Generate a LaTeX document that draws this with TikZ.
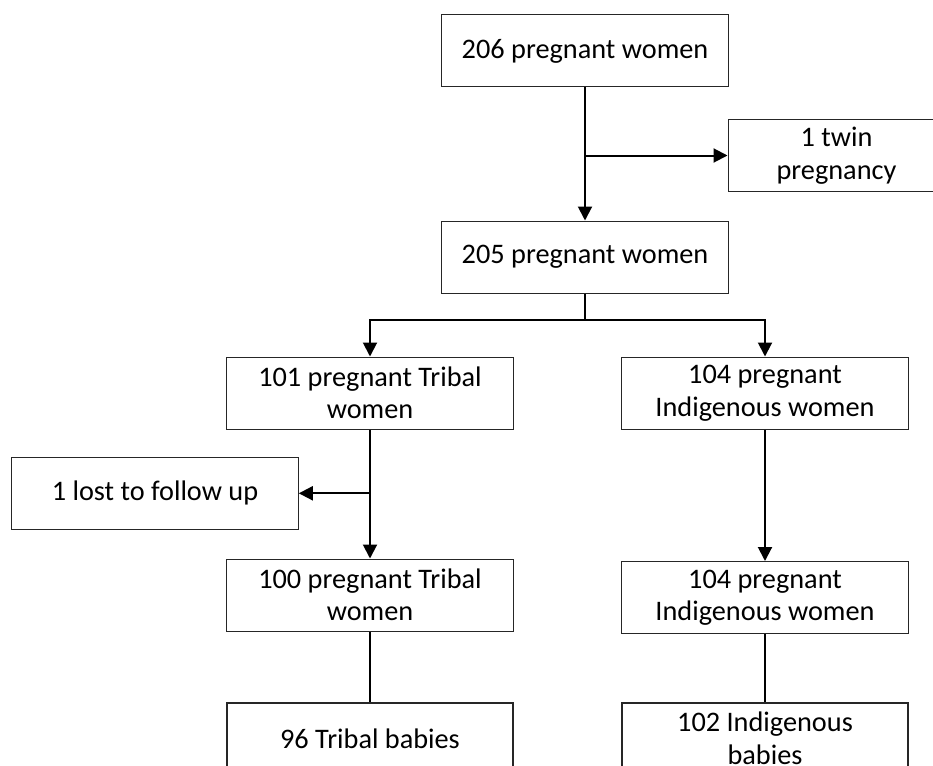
\documentclass[tikz,border=0pt]{standalone}
\usepackage{fontspec}
\setmainfont{Carlito}
\usetikzlibrary{arrows.meta}
\begin{document}
\begin{tikzpicture}[x=1pt,y=-1pt,
  box/.style={draw=black!85, line width=1pt, minimum width=286.6pt, minimum height=72pt,
    inner sep=0pt, align=center, font=\fontsize{28.3}{32.5}\selectfont},
  endbox/.style={box, line width=2pt},
  conn/.style={line width=2pt},
  arr/.style={conn, -{Triangle[length=14pt,width=14pt]}}]
\useasboundingbox (0,0) rectangle (933,765);
\node[box] (n206) at (585,51) {206 pregnant women};
\node[box, minimum width=217pt, minimum height=72.5pt] (twin) at (836.5,155.5) {1 twin\\pregnancy};
\node[box] (n205) at (585,257) {205 pregnant women};
\node[box] (n101) at (370,393) {101 pregnant Tribal\\women};
\node[box] (n104) at (765,393) {104 pregnant\\Indigenous women};
\node[box] (lost) at (155,493.3) {1 lost to follow up};
\node[box] (n100) at (370,595) {100 pregnant Tribal\\women};
\node[box] (n104b) at (765,597.5) {104 pregnant\\Indigenous women};
\node[endbox] (n96) at (370,738.5) {96 Tribal babies};
\node[endbox] (n102) at (765,738.5) {102 Indigenous\\babies};
\coordinate (b1) at (585,155.5);
\coordinate (s1) at (585,319.5);
\coordinate (b2) at (370,493.3);
\draw[arr] (n206.south) -- (n205.north);
\draw[arr] (b1) -- (twin.west);
\draw[conn] (n205.south) -- (s1);
\draw[arr] (s1) -| (n101.north);
\draw[arr] (s1) -| (n104.north);
\draw[arr] (n101.south) -- (n100.north);
\draw[arr] (b2) -- (lost.east);
\draw[arr] (n104.south) -- (n104b.north);
\draw[conn] (n100.south) -- (n96.north);
\draw[conn] (n104b.south) -- (n102.north);
\end{tikzpicture}
\end{document}
